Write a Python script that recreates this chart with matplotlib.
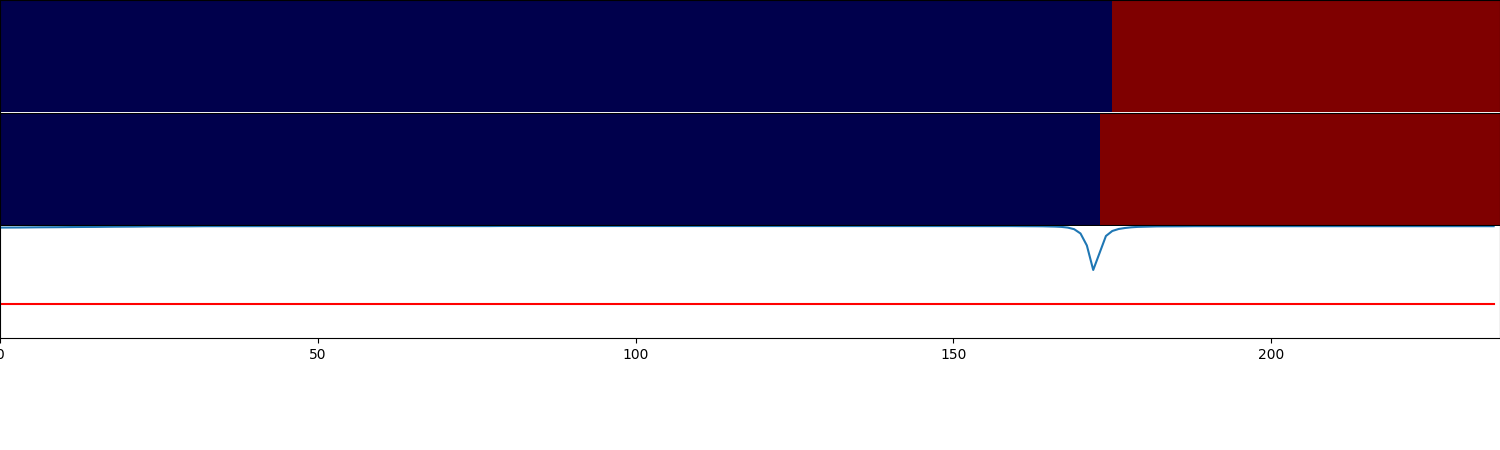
import numpy as np
import matplotlib.pyplot as plt

# etiquetas por amostra (0 = classe A, 1 = classe B), em corridas
rotulos_real = [0] * 175 + [1] * 61
rotulos_pred = [0] * 173 + [1] * 63

# curva de saida por amostra (236 pontos)
curva = [
    -0.016, -0.016, -0.015, -0.015, -0.014, -0.014, -0.013, -0.013, -0.012, -0.012,
    -0.011, -0.011, -0.010, -0.010, -0.009, -0.009, -0.008, -0.008, -0.007, -0.007,
    -0.006, -0.006, -0.005, -0.005, -0.004, -0.004, -0.004, -0.003, -0.003, -0.003,
    -0.003, -0.002, -0.002, -0.002, -0.002, -0.002, -0.002, -0.002, -0.002, -0.002,
    -0.002, -0.002, -0.002, -0.001, -0.001, -0.001, -0.001, -0.001, -0.001, -0.001,
    -0.001, -0.001, -0.001, -0.001, -0.001, -0.001, -0.001, -0.001, -0.001, -0.001,
    -0.001, -0.001, -0.001, -0.001, -0.001, -0.001, -0.001, -0.001, -0.001, -0.001,
    -0.001, -0.001, -0.001, -0.001, -0.001, -0.001, -0.001, -0.001, 0.000, 0.000,
    0.000, 0.000, 0.000, 0.000, 0.000, 0.000, 0.000, 0.000, 0.000, 0.000,
    0.000, 0.000, 0.000, 0.000, 0.000, 0.000, 0.000, 0.000, 0.000, 0.000,
    -0.001, -0.001, -0.001, -0.001, -0.001, -0.001, -0.001, -0.001, -0.001, -0.001,
    -0.001, -0.001, -0.001, -0.001, -0.001, -0.001, -0.001, -0.001, -0.001, -0.001,
    -0.001, -0.001, -0.001, -0.001, -0.001, -0.001, -0.001, -0.001, -0.001, -0.001,
    -0.001, -0.001, -0.001, -0.001, -0.001, -0.001, -0.001, -0.001, -0.001, -0.001,
    -0.001, -0.001, -0.001, -0.001, -0.001, -0.001, -0.001, -0.001, -0.001, -0.001,
    -0.001, -0.001, -0.001, -0.001, -0.001, -0.001, -0.001, -0.001, -0.001, -0.001,
    -0.002, -0.002, -0.002, -0.002, -0.003, -0.004, -0.006, -0.009, -0.016, -0.032,
    -0.075, -0.195, -0.440, -0.270, -0.100, -0.050, -0.030, -0.020, -0.013, -0.009,
    -0.007, -0.005, -0.004, -0.004, -0.003, -0.003, -0.003, -0.002, -0.002, -0.002,
    -0.002, -0.002, -0.002, -0.002, -0.002, -0.002, -0.002, -0.002, -0.002, -0.002,
    -0.002, -0.002, -0.002, -0.002, -0.002, -0.002, -0.002, -0.002, -0.002, -0.002,
    -0.002, -0.002, -0.002, -0.002, -0.002, -0.002, -0.002, -0.002, -0.002, -0.002,
    -0.002, -0.002, -0.002, -0.002, -0.002, -0.002, -0.002, -0.002, -0.002, -0.002,
    -0.002, -0.002, -0.002, -0.002, -0.002, -0.002,
]
limiar = -0.78

n = len(curva)
x = np.arange(n)

fig = plt.figure(figsize=(15, 4.5), dpi=100)
ax1 = fig.add_axes([0, 0.7511, 1, 0.2489])
ax2 = fig.add_axes([0, 0.5000, 1, 0.2489])
ax3 = fig.add_axes([0, 0.2490, 1, 0.2488])

for ax, rot in [(ax1, rotulos_real), (ax2, rotulos_pred)]:
    ax.imshow(np.array(rot)[np.newaxis, :], cmap='seismic', aspect='auto',
              extent=[0, n, 0, 1], vmin=0, vmax=1, interpolation='nearest')
    ax.set_xticks([])
    ax.set_yticks([])
ax1.spines['bottom'].set_visible(False)

ax3.plot(x, curva, color='#1f77b4')
ax3.plot(x, np.full(n, limiar), color='r')
ax3.set_xlim(0, n)
ax3.set_ylim(-1.12, 0.0)
ax3.set_yticks([])
ax3.spines['top'].set_visible(False)

plt.savefig('out.png', dpi=100)
